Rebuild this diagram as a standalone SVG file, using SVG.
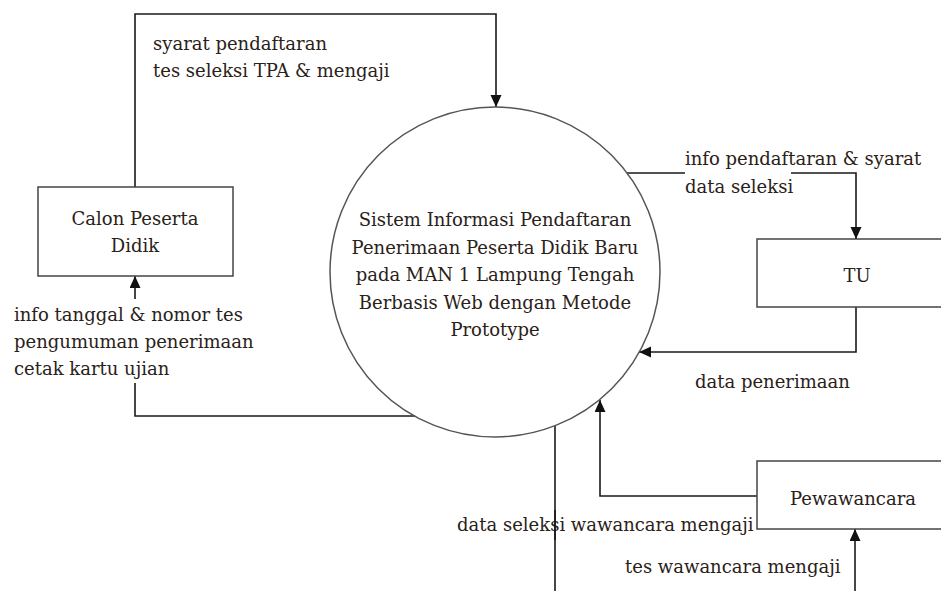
<svg xmlns="http://www.w3.org/2000/svg" width="941" height="591" viewBox="0 0 941 591">
<style>
  text { font-family: "DejaVu Serif", "Liberation Serif", serif; font-size: 18px; fill: #2a2118; }
  .mid { text-anchor: middle; }
  .box { fill: #fff; stroke: #444; stroke-width: 1.5; }
  .flow { fill: none; stroke: #1a1a1a; stroke-width: 1.6; }
  .bg { fill: #fff; }
</style>
<defs>
  <marker id="arr" markerUnits="userSpaceOnUse" markerWidth="12" markerHeight="12" refX="12" refY="5.5" orient="auto">
    <path d="M0,0 L12,5.5 L0,11 z" fill="#111"/>
  </marker>
</defs>
<rect width="941" height="591" fill="#fff"/>

<g id="connectors">
  <path class="flow" d="M135,187 V14 H496 V107" marker-end="url(#arr)"/>
  <path class="flow" d="M415,416 H135 V276" marker-end="url(#arr)"/>
  <path class="flow" d="M627,173 H856 V239" marker-end="url(#arr)"/>
  <path class="flow" d="M856,307 V352 H639" marker-end="url(#arr)"/>
  <path class="flow" d="M555,426 V591"/>
  <path class="flow" d="M757,496 H600 V400" marker-end="url(#arr)"/>
  <path class="flow" d="M855,591 V529" marker-end="url(#arr)"/>
</g>

<g id="labels">
  <text x="153" y="50">syarat pendaftaran</text>
  <text x="153" y="77">tes seleksi TPA &amp; mengaji</text>
  <rect class="bg" x="10" y="299" width="248" height="84"/>
  <text x="14" y="321">info tanggal &amp; nomor tes</text>
  <text x="14" y="348">pengumuman penerimaan</text>
  <text x="14" y="375">cetak kartu ujian</text>
  <text x="685" y="165">info pendaftaran &amp; syarat</text>
  <rect class="bg" x="685" y="171" width="106" height="25"/>
  <text x="685" y="193">data seleksi</text>
  <text x="695" y="388">data penerimaan</text>
  <text x="457" y="531">data seleksi wawancara mengaji</text>
  <text x="625" y="573">tes wawancara mengaji</text>
</g>
<path class="flow" d="M555,510 V540"/>

<g id="calon">
  <rect class="box" x="38" y="187" width="195" height="89"/>
  <text class="mid" x="135" y="225">Calon Peserta</text>
  <text class="mid" x="135" y="252">Didik</text>
</g>

<g id="sistem">
  <circle cx="495" cy="272" r="165" fill="none" stroke="#555" stroke-width="1.5"/>
  <text class="mid" x="495" y="226">Sistem Informasi Pendaftaran</text>
  <text class="mid" x="495" y="254">Penerimaan Peserta Didik Baru</text>
  <text class="mid" x="495" y="281">pada MAN 1 Lampung Tengah</text>
  <text class="mid" x="495" y="309">Berbasis Web dengan Metode</text>
  <text class="mid" x="495" y="336">Prototype</text>
</g>

<g id="tu">
  <rect class="box" x="757" y="239" width="200" height="68"/>
  <text class="mid" x="857" y="282">TU</text>
</g>

<g id="pewawancara">
  <rect class="box" x="757" y="461" width="200" height="68"/>
  <text class="mid" x="853" y="505">Pewawancara</text>
</g>
</svg>
